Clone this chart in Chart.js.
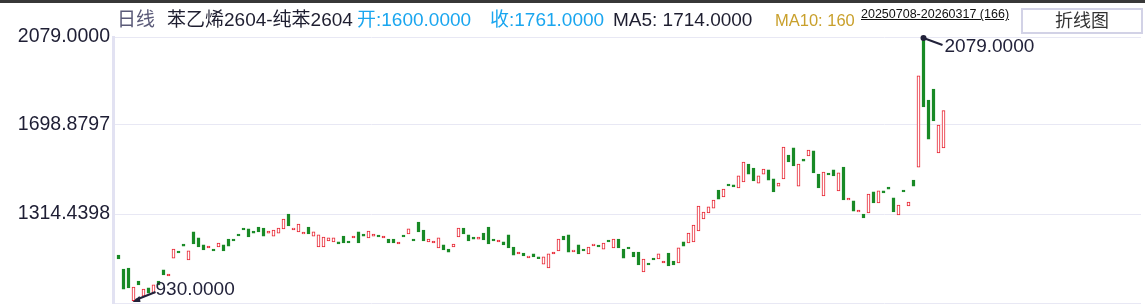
<!DOCTYPE html>
<html>
<head>
<meta charset="utf-8">
<script src="https://cdn.jsdelivr.net/npm/chart.js@4.4.1/dist/chart.umd.min.js"></script>
<style>
  html, body { margin: 0; padding: 0; background: #fff; }
  body { width: 1145px; height: 304px; position: relative; overflow: hidden; font-family: Arial, "Liberation Sans", "Noto Sans CJK SC", sans-serif; }
  #topbar { position: absolute; left: 0; top: 0; width: 1145px; height: 3px; background: #383838; }
  #kline { position: absolute; left: 0; top: 0; }
  .hd { position: absolute; top: 9px; font-size: 19px; line-height: 22px; white-space: nowrap; }
  #range { position: absolute; left: 861px; top: 6px; font-size: 12.5px; line-height: 16px; color: #111; text-decoration: underline; white-space: nowrap; }
  #btn { position: absolute; left: 1021px; top: 8px; width: 118px; height: 22px; border: 2px solid #d2d2e6; font-size: 18px; line-height: 22px; text-align: center; color: #333; background: #fff; }
</style>
</head>
<body>
<canvas id="kline" width="1145" height="304"></canvas>
<div id="topbar"></div>
<span class="hd" style="left:117px;color:#5a5a78">日线</span>
<span class="hd" style="left:167px;color:#1e1e30">苯乙烯2604-纯苯2604</span>
<span class="hd" style="left:357px;color:#1aa6ef">开:1600.0000</span>
<span class="hd" style="left:490px;color:#1aa6ef">收:1761.0000</span>
<span class="hd" style="left:613px;color:#1e1e30">MA5: 1714.0000</span>
<span class="hd" style="left:775px;color:#c9a02c;font-size:16.5px">MA10: 160</span>
<span id="range">20250708-20260317 (166)</span>
<div id="btn">折线图</div>
<script>
// K线数据（开盘 / 收盘），共166根
const opens = [
  1137, 1077, 1081, 940, 1025, 960, 995, 973, 1025, 1073,
  1047, 1124, 1154, 1185, 1116, 1237, 1211, 1181, 1168, 1163,
  1172, 1181, 1206, 1206, 1228, 1254, 1250, 1241, 1258, 1254,
  1232, 1219, 1232, 1250, 1314, 1246, 1237, 1228, 1258, 1219,
  1172, 1172, 1198, 1194, 1194, 1219, 1198, 1211, 1237, 1228,
  1211, 1219, 1223, 1211, 1206, 1206, 1185, 1223, 1228, 1206,
  1280, 1245, 1194, 1189, 1168, 1181, 1163, 1172, 1215, 1254,
  1224, 1215, 1206, 1232, 1258, 1206, 1194, 1194, 1224, 1172,
  1142, 1146, 1125, 1142, 1129, 1098, 1081, 1142, 1155, 1219,
  1224, 1151, 1181, 1163, 1142, 1177, 1180, 1163, 1202, 1168,
  1206, 1163, 1172, 1150, 1150, 1064, 1102, 1124, 1120, 1103,
  1146, 1111, 1103, 1194, 1189, 1194, 1241, 1293, 1319, 1340,
  1418, 1388, 1444, 1440, 1427, 1453, 1530, 1513, 1448, 1487,
  1505, 1466, 1435, 1466, 1569, 1600, 1435, 1552, 1565, 1587,
  1487, 1392, 1491, 1505, 1414, 1517, 1375, 1371, 1323, 1314,
  1319, 1410, 1362, 1414, 1431, 1384, 1310, 1418, 1349, 1461,
  1517, 2079, 1807, 1854, 1578, 1600
];
const closes = [
  1120, 990, 995, 999, 1008, 990, 973, 1008, 1008, 1051,
  1055, 1163, 1146, 1176, 1155, 1185, 1172, 1159, 1176, 1155,
  1189, 1155, 1176, 1198, 1220, 1246, 1215, 1232, 1237, 1219,
  1241, 1245, 1254, 1293, 1263, 1254, 1271, 1236, 1228, 1237,
  1224, 1215, 1211, 1211, 1185, 1189, 1189, 1219, 1189, 1219,
  1241, 1228, 1215, 1219, 1189, 1189, 1193, 1215, 1250, 1198,
  1237, 1198, 1206, 1198, 1211, 1159, 1150, 1185, 1254, 1228,
  1198, 1206, 1215, 1202, 1185, 1198, 1202, 1181, 1168, 1137,
  1150, 1133, 1133, 1129, 1121, 1129, 1142, 1150, 1206, 1202,
  1150, 1159, 1142, 1155, 1172, 1185, 1172, 1189, 1194, 1206,
  1168, 1124, 1164, 1129, 1094, 1120, 1094, 1116, 1142, 1111,
  1090, 1094, 1168, 1176, 1232, 1267, 1349, 1323, 1345, 1375,
  1379, 1422, 1436, 1431, 1479, 1539, 1487, 1457, 1479, 1509,
  1461, 1410, 1448, 1604, 1539, 1522, 1530, 1543, 1591, 1492,
  1427, 1496, 1483, 1479, 1492, 1375, 1383, 1327, 1331, 1297,
  1401, 1362, 1414, 1405, 1422, 1323, 1353, 1410, 1366, 1435,
  1911, 1777, 1638, 1716, 1699, 1761
];

// 纵轴刻度
const tickValues = [930, 1314.4398, 1698.8797, 2079];
const tickLabels = ['', '1314.4398', '1698.8797', '2079.0000'];

// 最高 / 最低标注
const highIdx = 161, highVal = 2079, highText = '2079.0000';
const lowIdx = 3, lowVal = 930, lowText = '930.0000';

const UP = '#e8222f';
const DOWN = '#188a26';

const candles = opens.map((o, i) => ({ x: i, y: [o, closes[i]] }));

const markPlugin = {
  id: 'marks',
  afterDatasetsDraw(chart) {
    const { ctx, scales } = chart;
    ctx.save();
    ctx.fillStyle = '#22223a';
    ctx.strokeStyle = '#22223a';
    ctx.lineWidth = 2;
    ctx.font = '19px Arial, "Liberation Sans", sans-serif';
    ctx.textBaseline = 'middle';
    ctx.textAlign = 'left';

    // 最高价
    let px = scales.x.getPixelForValue(highIdx);
    let py = scales.y.getPixelForValue(highVal);
    ctx.beginPath();
    ctx.arc(px, py + 1, 3, 0, Math.PI * 2);
    ctx.fill();
    ctx.beginPath();
    ctx.moveTo(px, py + 1);
    ctx.lineTo(px + 19, py + 8);
    ctx.stroke();
    ctx.fillText(highText, px + 21, py + 10);

    // 最低价
    px = scales.x.getPixelForValue(lowIdx);
    py = scales.y.getPixelForValue(lowVal);
    ctx.beginPath();
    ctx.moveTo(px + 22, py - 11);
    ctx.lineTo(px + 2, py - 3);
    ctx.stroke();
    ctx.beginPath();
    ctx.moveTo(px - 1, py - 1);
    ctx.lineTo(px + 6, py - 7);
    ctx.lineTo(px + 7, py - 1);
    ctx.closePath();
    ctx.fill();
    ctx.fillText(lowText, px + 22, py - 13);
    ctx.restore();
  }
};

const ctx = document.getElementById('kline').getContext('2d');
const klineChart = new Chart(ctx, {
  type: 'bar',
  data: {
    datasets: [{
      data: candles,
      barThickness: 3,
      borderWidth: 1,
      borderSkipped: false,
      backgroundColor: c => {
        const i = c.dataIndex;
        return closes[i] >= opens[i] ? '#ffffff' : DOWN;
      },
      borderColor: c => {
        const i = c.dataIndex;
        return closes[i] >= opens[i] ? UP : DOWN;
      }
    }]
  },
  options: {
    responsive: false,
    animation: false,
    layout: { padding: { top: 37, bottom: 1, right: 4, left: 0 } },
    scales: {
      x: {
        type: 'linear',
        display: false,
        offset: false,
        min: -1.1,
        max: 204.5
      },
      y: {
        min: 930,
        max: 2079,
        afterBuildTicks: scale => {
          scale.ticks = tickValues.map(v => ({ value: v }));
        },
        afterFit: scale => {
          scale.width = 113;
          scale.paddingTop = 0;
          scale.paddingBottom = 0;
        },
        ticks: {
          padding: 3,
          color: '#1e1e34',
          font: { family: 'Arial, "Liberation Sans", sans-serif', size: 19.5 },
          callback: (v, i) => tickLabels[i]
        },
        grid: { color: '#e8e8f4', lineWidth: 1, drawTicks: false },
        border: { color: '#e2e2f2', width: 3 }
      }
    },
    plugins: {
      legend: { display: false },
      tooltip: { enabled: false }
    }
  },
  plugins: [markPlugin]
});
</script>
</body>
</html>
